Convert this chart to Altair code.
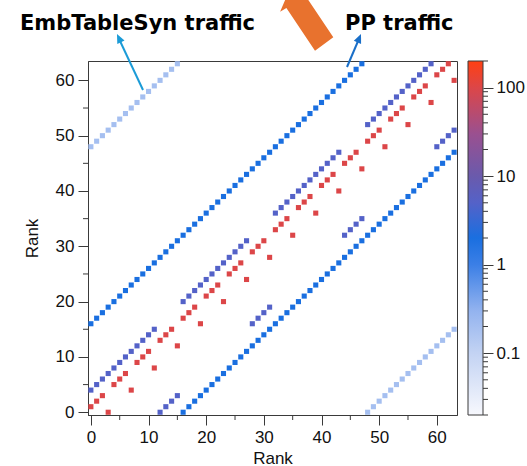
import math
import altair as alt
import pandas as pd

# ---------------- data ----------------
# source rank -> destination rank for each kind of traffic (None = no traffic)
ring4_dst = [1, 2, 3, 0, 5, 6, 7, 4, 9, 10, 11, 8, 13, 14, 15, 12,
             17, 18, 19, 16, 21, 22, 23, 20, 25, 26, 27, 24, 29, 30, 31, 28,
             33, 34, 35, 32, 37, 38, 39, 36, 41, 42, 43, 40, 45, 46, 47, 44,
             49, 50, 51, 48, 53, 54, 55, 52, 57, 58, 59, 56, 61, 62, 63, 60]
shift4_dst = [4, 5, 6, 7, 8, 9, 10, 11, 12, 13, 14, 15, 0, 1, 2, 3,
              20, 21, 22, 23, 24, 25, 26, 27, 28, 29, 30, 31, 16, 17, 18, 19,
              36, 37, 38, 39, 40, 41, 42, 43, 44, 45, 46, 47, 32, 33, 34, 35,
              52, 53, 54, 55, 56, 57, 58, 59, 60, 61, 62, 63, 48, 49, 50, 51]
pp_next_dst = [16, 17, 18, 19, 20, 21, 22, 23, 24, 25, 26, 27, 28, 29, 30, 31,
               32, 33, 34, 35, 36, 37, 38, 39, 40, 41, 42, 43, 44, 45, 46, 47,
               48, 49, 50, 51, 52, 53, 54, 55, 56, 57, 58, 59, 60, 61, 62, 63,
               None, None, None, None, None, None, None, None,
               None, None, None, None, None, None, None, None]
pp_prev_dst = [None, None, None, None, None, None, None, None,
               None, None, None, None, None, None, None, None,
               0, 1, 2, 3, 4, 5, 6, 7, 8, 9, 10, 11, 12, 13, 14, 15,
               16, 17, 18, 19, 20, 21, 22, 23, 24, 25, 26, 27, 28, 29, 30, 31,
               32, 33, 34, 35, 36, 37, 38, 39, 40, 41, 42, 43, 44, 45, 46, 47]
emb_dst = [48, 49, 50, 51, 52, 53, 54, 55, 56, 57, 58, 59, 60, 61, 62, 63,
           None, None, None, None, None, None, None, None,
           None, None, None, None, None, None, None, None,
           None, None, None, None, None, None, None, None,
           None, None, None, None, None, None, None, None,
           0, 1, 2, 3, 4, 5, 6, 7, 8, 9, 10, 11, 12, 13, 14, 15]

traffic_volume = {"ring4": 100, "shift4": 5, "pp_next": 2, "pp_prev": 2, "emb": 0.2}
patterns = {"ring4": ring4_dst, "shift4": shift4_dst, "pp_next": pp_next_dst,
            "pp_prev": pp_prev_dst, "emb": emb_dst}

rank_ticks = [0, 10, 20, 30, 40, 50, 60]
rank_minor = [5, 15, 25, 35, 45, 55]
cbar_major = [0.1, 1, 10, 100]
cbar_minor = [0.02, 0.03, 0.04, 0.05, 0.06, 0.07, 0.08, 0.09,
              0.2, 0.3, 0.4, 0.5, 0.6, 0.7, 0.8, 0.9,
              2, 3, 4, 5, 6, 7, 8, 9,
              20, 30, 40, 50, 60, 70, 80, 90, 200]

rows = []
for kind, dsts in patterns.items():
    for s, d in enumerate(dsts):
        if d is not None:
            rows.append({"src": s, "dst": d, "traffic": traffic_volume[kind]})
df = pd.DataFrame(rows)

# ---------------- styling ----------------
W, H = 369, 354
PL, PT = 88, 61
AX = "#3a3a3a"
FONT = "Liberation Sans"
TFONT = "DejaVu Sans"

cdom = [0.02, 0.1, 0.3, 1, 2, 5, 10, 30, 100, 200]
crange = ["#f7f8fd", "#c3d3f3", "#93b3ef", "#3b7fe6", "#1a6fe0", "#5462c8",
          "#6a5aac", "#9a5090", "#dc4648", "#ff4012"]
lo, hi = math.log10(cdom[0]), math.log10(cdom[-1])
grad = {"gradient": "linear", "x1": 0, "x2": 0, "y1": 1, "y2": 0,
        "stops": [{"offset": (math.log10(v) - lo) / (hi - lo), "color": c}
                  for v, c in zip(cdom, crange)]}

rank_scale = alt.Scale(domain=[-0.5, 63.5], nice=False, zero=False)
x_axis = alt.Axis(values=rank_ticks, title="Rank", tickSize=10,
                  labelPadding=4, titlePadding=5)
y_axis = alt.Axis(values=rank_ticks, title="Rank", tickSize=10,
                  labelPadding=4, titlePadding=14)
one = pd.DataFrame({"a": [0]})

heat = alt.Chart(df).mark_square(size=26, opacity=1).encode(
    x=alt.X("src:Q", scale=rank_scale, axis=x_axis),
    y=alt.Y("dst:Q", scale=rank_scale, axis=y_axis),
    color=alt.Color("traffic:Q", legend=None,
                    scale=alt.Scale(type="log", domain=cdom, range=crange,
                                    interpolate="rgb")),
)

xminor = alt.Chart(pd.DataFrame({"src": rank_minor})).mark_rule(color=AX).encode(
    x=alt.X("src:Q", scale=rank_scale, axis=x_axis),
    y=alt.value(H), y2=alt.value(H + 5))
yminor = alt.Chart(pd.DataFrame({"dst": rank_minor})).mark_rule(color=AX).encode(
    y=alt.Y("dst:Q", scale=rank_scale, axis=y_axis),
    x=alt.value(0), x2=alt.value(-5))

cbar = alt.Chart(one).mark_rect(fill=grad, stroke=AX, strokeWidth=1).encode(
    x=alt.value(W + 11), x2=alt.value(W + 26), y=alt.value(0), y2=alt.value(H))

txt_emb = alt.Chart(one).mark_text(
    text="EmbTableSyn traffic", font=TFONT, fontSize=21, fontWeight="bold",
    align="left", baseline="alphabetic", color="#000").encode(
    x=alt.value(20 - PL), y=alt.value(30 - PT))
txt_pp = alt.Chart(one).mark_text(
    text="PP traffic", font=TFONT, fontSize=21, fontWeight="bold",
    align="left", baseline="alphabetic", color="#000").encode(
    x=alt.value(345 - PL), y=alt.value(30 - PT))

emb_line = alt.Chart(one).mark_rule(color="#1b9bd7", strokeWidth=2).encode(
    x=alt.value(143 - PL), y=alt.value(90 - PT),
    x2=alt.value(120 - PL), y2=alt.value(41 - PT))
emb_head = alt.Chart(one).mark_point(
    shape="M0,0 L7.5,6.5 L0.3,9.9 Z", size=4, filled=True, opacity=1,
    strokeWidth=0, color="#1b9bd7").encode(
    x=alt.value(117 - PL), y=alt.value(34 - PT))

pp_line = alt.Chart(one).mark_rule(color="#1a6fc8", strokeWidth=2).encode(
    x=alt.value(347 - PL), y=alt.value(67 - PT),
    x2=alt.value(358.5 - PL), y2=alt.value(40 - PT))
pp_head = alt.Chart(one).mark_point(
    shape="M0,0 L0.1,9.9 L-7.2,6.8 Z", size=4, filled=True, opacity=1,
    strokeWidth=0, color="#1a6fc8").encode(
    x=alt.value(361 - PL), y=alt.value(34 - PT))

big_arrow = alt.Chart(one).mark_point(
    shape="M15,30.7 L-13.6,-12 L-19.9,-8.3 L-11.1,-28.8 L11.1,-29.1 L4.7,-25.4 L33.3,17.3 Z",
    size=4, filled=True, opacity=1, strokeWidth=0, color="#e8722e").encode(
    x=alt.value(300 - PL), y=alt.value(20 - PT))

cb_ticks = alt.Chart(pd.DataFrame({"v": cbar_minor})).mark_rule(color=AX).encode(
    y=alt.Y("v:Q", scale=alt.Scale(type="log", domain=[0.02, 200], nice=False),
            axis=alt.Axis(orient="right", offset=26, values=cbar_major, tickSize=10,
                          domain=False, format="~g", title=None, labelPadding=3)),
    x=alt.value(W + 26), x2=alt.value(W + 31))

main = alt.layer(heat, xminor, yminor, cbar, txt_emb, txt_pp, emb_line, emb_head,
                 pp_line, pp_head, big_arrow)

chart = alt.layer(main, cb_ticks).resolve_scale(y="independent").properties(
    width=W, height=H,
    autosize=alt.AutoSizeParams(type="none"),
    padding={"left": PL, "top": PT, "right": 527 - PL - W, "bottom": 466 - PT - H},
).configure_view(stroke=AX, strokeWidth=1).configure_axis(
    labelFont=FONT, labelFontSize=17, labelColor="#111",
    titleFont=FONT, titleFontSize=17, titleFontWeight="normal", titleColor="#111",
    domainColor=AX, tickColor=AX, grid=False)

chart.save("out.html", embed_options={"renderer": "svg", "actions": False})
